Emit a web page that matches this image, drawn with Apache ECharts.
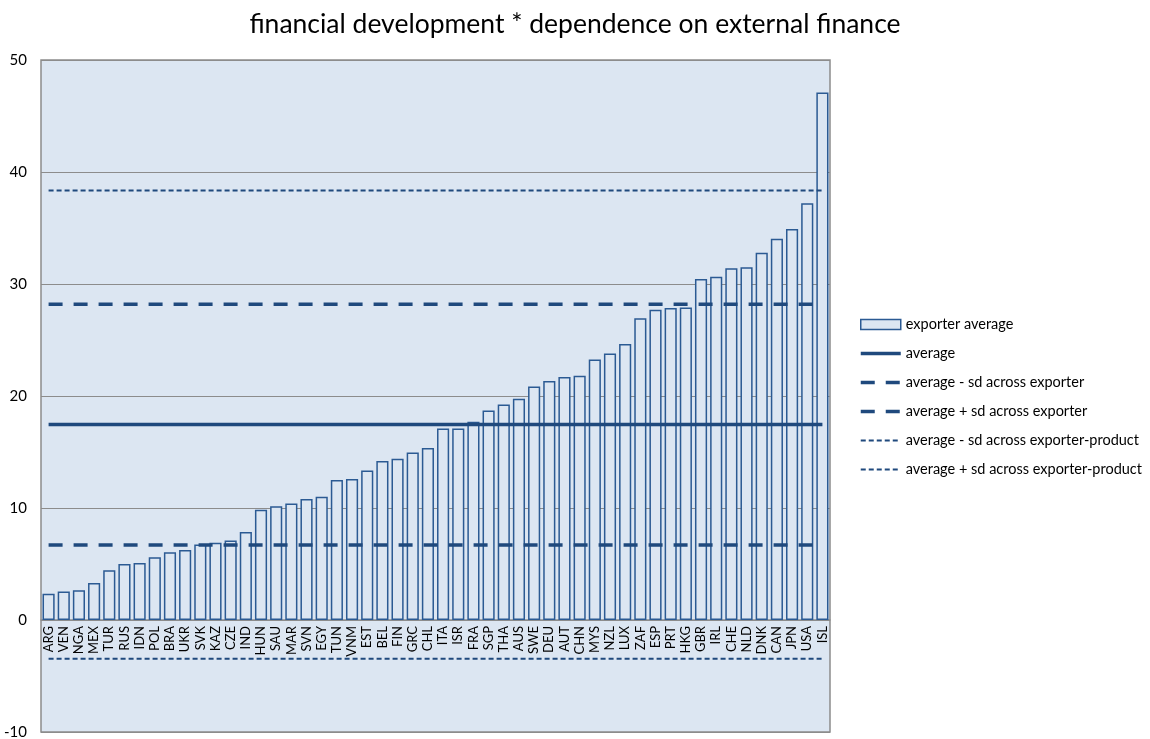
<!DOCTYPE html>
<html>
<head>
<meta charset="utf-8">
<script src="https://cdn.jsdelivr.net/npm/echarts@6/dist/echarts.min.js"></script>
<style>
    html, body { margin: 0; padding: 0; background: #fff; }
    #main { width: 1150px; height: 739px; }
</style>
</head>
<body>
<div id="main"></div>
<script>
// countries, sorted by value
var countries = ['ARG','VEN','NGA','MEX','TUR','RUS','IDN','POL','BRA','UKR','SVK','KAZ','CZE','IND','HUN','SAU','MAR','SVN','EGY','TUN','VNM','EST','BEL','FIN','GRC','CHL','ITA','ISR','FRA','SGP','THA','AUS','SWE','DEU','AUT','CHN','MYS','NZL','LUX','ZAF','ESP','PRT','HKG','GBR','IRL','CHE','NLD','DNK','CAN','JPN','USA','ISL'];
var exporterAvg = [2.35,2.55,2.65,3.3,4.45,5.0,5.1,5.6,6.05,6.25,6.75,6.9,7.1,7.85,9.85,10.15,10.4,10.8,11.0,12.5,12.6,13.35,14.2,14.4,14.95,15.35,17.1,17.1,17.7,18.7,19.25,19.75,20.85,21.35,21.7,21.8,23.25,23.8,24.65,26.95,27.7,27.85,27.9,30.45,30.65,31.4,31.5,32.8,34.05,34.9,37.2,47.1];

// horizontal reference levels
var average = 17.45;
var avgMinusSdExp = 6.7;
var avgPlusSdExp = 28.2;
var avgMinusSdProd = -3.45;
var avgPlusSdProd = 38.35;

var yTicks = [-10, 0, 10, 20, 30, 40, 50];

function flat(v) {
    return countries.map(function () { return v; });
}

var myChart = echarts.init(document.getElementById('main'));
var lineColor = '#1f497d';
var font = 'Lato, "Open Sans", sans-serif';
var noSymbol = { opacity: 0 };
var thick = { width: 3.5 };

// plot is 60..732 px tall, zero sits 112px above the bottom
var zeroOffset = -112;

var option = {
    animation: false,
    textStyle: { fontFamily: font },
    title: {
        text: 'financial development * dependence on external finance',
        left: 'center',
        top: 6,
        textStyle: { fontSize: 26.5, fontWeight: 'normal', color: '#000', fontFamily: font }
    },
    legend: {
        orient: 'vertical',
        left: 854,
        top: 312,
        itemGap: 14,
        itemWidth: 40,
        itemHeight: 10,
        textStyle: { fontSize: 14.5, color: '#000', fontFamily: font },
        data: [
            { name: 'exporter average', icon: 'rect', itemStyle: { borderWidth: 1.5 } },
            { name: 'average', itemStyle: noSymbol, lineStyle: thick },
            { name: 'average - sd across exporter', itemStyle: noSymbol, lineStyle: thick },
            { name: 'average + sd across exporter', itemStyle: noSymbol, lineStyle: thick },
            { name: 'average - sd across exporter-product', itemStyle: noSymbol },
            { name: 'average + sd across exporter-product', itemStyle: noSymbol }
        ]
    },
    grid: {
        left: 41,
        right: 320,
        top: 60,
        bottom: 7,
        outerBoundsMode: 'none',
        show: true,
        backgroundColor: '#dce6f2',
        borderColor: '#8c8c8c',
        borderWidth: 1.5
    },
    xAxis: {
        type: 'category',
        data: countries,
        offset: zeroOffset,
        axisLine: { onZero: false, lineStyle: { color: '#8c8c8c', width: 1.5 } },
        axisTick: { show: false },
        axisLabel: { rotate: 90, interval: 0, margin: 6, fontSize: 13, color: '#000', fontFamily: font }
    },
    yAxis: {
        type: 'value',
        min: yTicks[0],
        max: yTicks[yTicks.length - 1],
        interval: 10,
        axisLine: { show: false },
        axisTick: { show: false },
        axisLabel: { margin: 14, fontSize: 15, color: '#000', fontFamily: font },
        splitLine: { lineStyle: { color: '#8c8c8c', width: 1.2 } }
    },
    series: [
        {
            name: 'exporter average',
            type: 'bar',
            data: exporterAvg,
            barCategoryGap: '20%',
            itemStyle: { color: '#dce6f2', borderColor: '#2b5a93', borderWidth: 1.5 }
        },
        {
            name: 'average',
            type: 'line',
            data: flat(average),
            symbol: 'none',
            lineStyle: { color: lineColor, width: 3.5 },
            itemStyle: { color: lineColor }
        },
        {
            name: 'average - sd across exporter',
            type: 'line',
            data: flat(avgMinusSdExp),
            symbol: 'none',
            lineStyle: { color: lineColor, width: 3.5, type: [14, 11] },
            itemStyle: { color: lineColor }
        },
        {
            name: 'average + sd across exporter',
            type: 'line',
            data: flat(avgPlusSdExp),
            symbol: 'none',
            lineStyle: { color: lineColor, width: 3.5, type: [14, 11] },
            itemStyle: { color: lineColor }
        },
        {
            name: 'average - sd across exporter-product',
            type: 'line',
            data: flat(avgMinusSdProd),
            symbol: 'none',
            lineStyle: { color: lineColor, width: 2, type: [5, 3] },
            itemStyle: { color: lineColor }
        },
        {
            name: 'average + sd across exporter-product',
            type: 'line',
            data: flat(avgPlusSdProd),
            symbol: 'none',
            lineStyle: { color: lineColor, width: 2, type: [5, 3] },
            itemStyle: { color: lineColor }
        }
    ]
};

myChart.setOption(option);
</script>
</body>
</html>
